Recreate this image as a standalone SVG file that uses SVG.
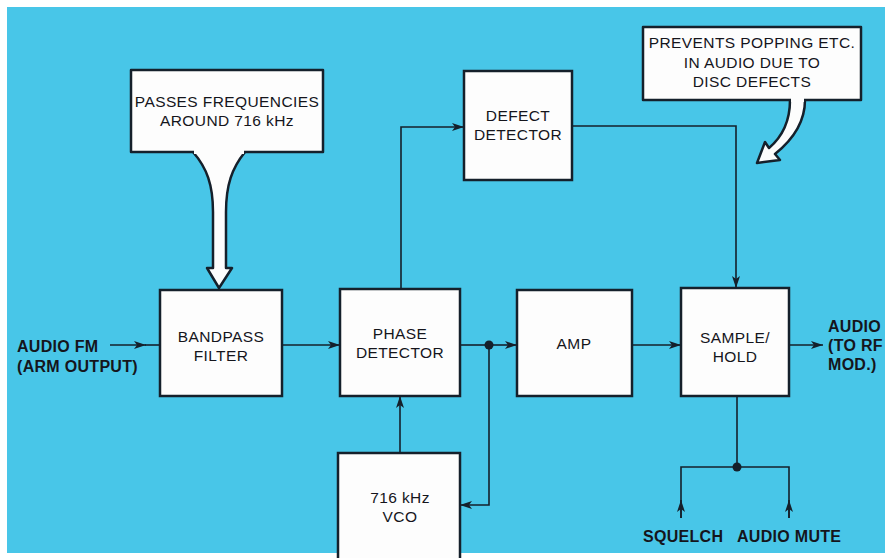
<svg xmlns="http://www.w3.org/2000/svg" width="890" height="558" viewBox="0 0 890 558">
<defs>
<marker id="ah" viewBox="0 0 12 8" refX="12" refY="4" markerWidth="12" markerHeight="8" markerUnits="userSpaceOnUse" orient="auto">
<path d="M0,0 L12,4 L0,8 L3,4 Z" fill="#15202b"/>
</marker>
<style>
.box{fill:#fdfdfd;stroke:#15202b;stroke-width:2.5}
.call{fill:#fdfdfd;stroke:#15202b;stroke-width:2.5;stroke-linejoin:round}
.t{font-family:"Liberation Sans",Arial,sans-serif;font-size:15.5px;fill:#15151c;text-anchor:middle;letter-spacing:0.4px}
.b{font-family:"Liberation Sans",Arial,sans-serif;font-size:16px;font-weight:bold;fill:#15151c;letter-spacing:0.3px}
.w{fill:none;stroke:#15202b;stroke-width:1.6}
.a{fill:none;stroke:#15202b;stroke-width:1.6;marker-end:url(#ah)}
.dot{fill:#15202b}
</style>
</defs>
<rect x="0" y="0" width="890" height="558" fill="#ffffff"/>
<rect x="7" y="7" width="878" height="546" fill="#48c6e8"/>

<g id="callout-bandpass">
<path class="call" d="M193,152 C207,168 213,185 213,212 L213,268 L207,268 L219,288 L232,268 L226,268 L226,212 C226,185 232,168 245,152 Z"/>
<rect class="call" x="131" y="70" width="192" height="82"/>
<rect x="194" y="148" width="50" height="6" fill="#fdfdfd"/>
<text class="t" x="227" y="107">PASSES FREQUENCIES</text>
<text class="t" x="227" y="126">AROUND 716 kHz</text>
</g>

<g id="callout-defect">
<path class="call" d="M790,100 C790,122 782,137 769,148 L765,142 L757,163 L780,160 L775,154 C795,138 805,120 805,100 Z"/>
<rect class="call" x="643" y="27" width="218" height="73"/>
<rect x="791" y="96" width="13" height="6" fill="#fdfdfd"/>
<text class="t" x="752" y="48">PREVENTS POPPING ETC.</text>
<text class="t" x="752" y="68">IN AUDIO DUE TO</text>
<text class="t" x="752" y="87">DISC DEFECTS</text>
</g>

<g id="bandpass">
<rect class="box" x="160" y="290" width="122" height="106"/>
<text class="t" x="221" y="342">BANDPASS</text>
<text class="t" x="221" y="361">FILTER</text>
</g>

<g id="phase">
<rect class="box" x="340" y="289" width="120" height="107"/>
<text class="t" x="400" y="339">PHASE</text>
<text class="t" x="400" y="358">DETECTOR</text>
</g>

<g id="amp">
<rect class="box" x="517" y="290" width="115" height="106"/>
<text class="t" x="574" y="349">AMP</text>
</g>

<g id="samplehold">
<rect class="box" x="681" y="288" width="108" height="108"/>
<text class="t" x="735" y="343">SAMPLE/</text>
<text class="t" x="735" y="362">HOLD</text>
</g>

<g id="defect">
<rect class="box" x="464" y="71" width="108" height="109"/>
<text class="t" x="518" y="121">DEFECT</text>
<text class="t" x="518" y="140">DETECTOR</text>
</g>

<g id="vco">
<rect class="box" x="338" y="453" width="122" height="110"/>
<text class="t" x="400" y="503">716 kHz</text>
<text class="t" x="400" y="522">VCO</text>
</g>

<g id="labels">
<text class="b" x="17" y="352">AUDIO FM</text>
<text class="b" x="17" y="372">(ARM OUTPUT)</text>
<text class="b" x="828" y="332">AUDIO</text>
<text class="b" x="828" y="351">(TO RF</text>
<text class="b" x="828" y="370">MOD.)</text>
<text class="b" x="643" y="542">SQUELCH</text>
<text class="b" x="737" y="542">AUDIO MUTE</text>
</g>

<g id="connectors">
<line class="a" x1="110" y1="345" x2="146" y2="345"/>
<line class="w" x1="145" y1="345" x2="160" y2="345"/>
<line class="a" x1="282" y1="345" x2="340" y2="345"/>
<line class="w" x1="460" y1="345" x2="489" y2="345"/>
<line class="a" x1="489" y1="345" x2="517" y2="345"/>
<circle class="dot" cx="489" cy="345" r="4.5"/>
<polyline class="a" points="489,345 489,505 460,505"/>
<line class="a" x1="400" y1="453" x2="400" y2="396"/>
<polyline class="a" points="401,289 401,127 464,127"/>
<polyline class="a" points="572,126 736,126 736,288"/>
<line class="a" x1="632" y1="345" x2="681" y2="345"/>
<line class="a" x1="789" y1="345" x2="823" y2="345"/>
<line class="w" x1="737" y1="396" x2="737" y2="467"/>
<polyline class="w" points="681,518 681,467 789,467 789,518"/>
<circle class="dot" cx="737" cy="467" r="4.5"/>
<line class="a" x1="681" y1="518" x2="681" y2="500"/>
<line class="a" x1="789" y1="518" x2="789" y2="500"/>
</g>
</svg>
